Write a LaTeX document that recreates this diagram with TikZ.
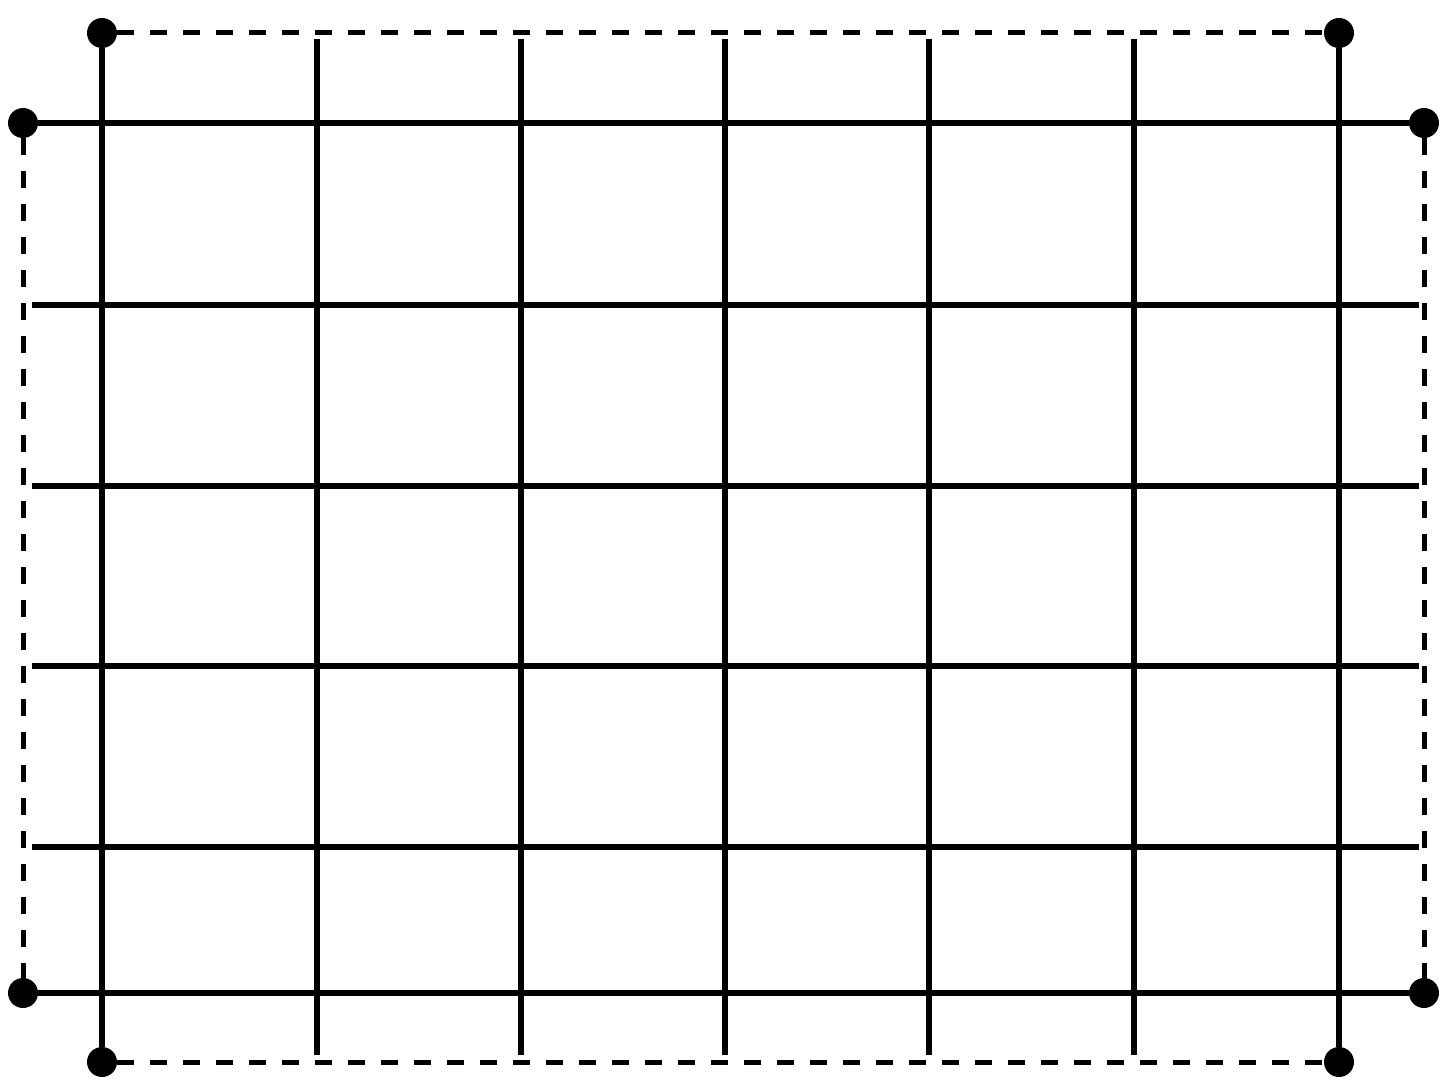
\documentclass[tikz,border=0pt]{standalone}
\usepackage{amsmath}
\usepackage{amssymb}
\usepackage{tikz}

\begin{document}
\begin{tikzpicture}[x=0.5pt,y=0.5pt,yscale=-1,xscale=1,
  gridline/.style={line width=2.8pt},
  dashline/.style={line width=2.5pt,dash pattern=on 8.5pt off 8pt},
  pin/.style={circle,fill=black,inner sep=0pt,minimum size=15pt}]
\path (0,0) rectangle (1448,1086); %set diagram size

%Shape: Circles (corner pins)
\node [pin] (tl) at (102,33) {};
\node [pin] (tr) at (1339,33) {};
\node [pin] (lt) at (23,123) {};
\node [pin] (rt) at (1424,123) {};
\node [pin] (lb) at (23,993) {};
\node [pin] (rb) at (1424,993) {};
\node [pin] (bl) at (102,1062) {};
\node [pin] (br) at (1339,1062) {};

%Dashed Lines (border)
\draw [dashline] (tl) -- (tr) ;
\draw [dashline] (bl) -- (br) ;
\draw [dashline] (lt) -- (lb) ;
\draw [dashline] (rt) -- (rb) ;

%Straight Lines (outer)
\draw [gridline] (tl) -- (bl) ;
\draw [gridline] (tr) -- (br) ;
\draw [gridline] (lt) -- (rt) ;
\draw [gridline] (lb) -- (rb) ;

%Straight Lines (inner verticals)
\draw [gridline] (317,39) -- (317,1055) ;
\draw [gridline] (521,39) -- (521,1055) ;
\draw [gridline] (725,39) -- (725,1055) ;
\draw [gridline] (929,39) -- (929,1055) ;
\draw [gridline] (1134,39) -- (1134,1055) ;

%Straight Lines (inner horizontals)
\draw [gridline] (32,305) -- (1419,305) ;
\draw [gridline] (32,486) -- (1419,486) ;
\draw [gridline] (32,666) -- (1419,666) ;
\draw [gridline] (32,847) -- (1419,847) ;
\end{tikzpicture}
\end{document}
